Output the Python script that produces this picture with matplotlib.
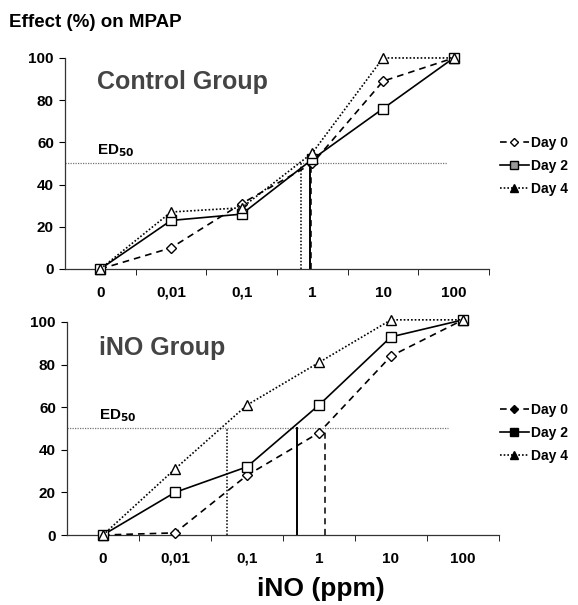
import matplotlib
matplotlib.use("Agg")
import matplotlib.pyplot as plt
from matplotlib.lines import Line2D

plt.rcParams["font.family"] = ["Liberation Sans", "DejaVu Sans"]
plt.rcParams["font.weight"] = "bold"

# ── data ──────────────────────────────────────────────────────────────
doses = ["0", "0,01", "0,1", "1", "10", "100"]
days = ["Day 0", "Day 2", "Day 4"]

ctrl_day0 = [0, 10, 31, 50, 89, 100]
ctrl_day2 = [0, 23, 26, 52, 76, 100]
ctrl_day4 = [0, 27, 29, 55, 100, 100]
ctrl_ed50 = [2.98, 2.96, 2.84]      # x position (category index) where curve crosses 50 %

ino_day0 = [0, 1, 28, 48, 84, 101]
ino_day2 = [0, 20, 32, 61, 93, 101]
ino_day4 = [0, 31, 61, 81, 101, 101]
ino_ed50 = [3.08, 2.70, 1.72]

ed50_level = 50
ed50_end = [4.91, 4.79]              # right end of horizontal ED50 line (category index)

styles = [
    dict(ls=(0, (4, 3)), marker="D", ms=5.5),
    dict(ls="-", marker="s", ms=6.5),
    dict(ls=(0, (1, 1.2)), marker="^", ms=6.5),
]

fig = plt.figure(figsize=(5.78, 6.05), dpi=100)

fig.text(0.016, 0.962, "Effect (%) on MPAP", fontsize=13.5, fontweight="bold",
         ha="left", va="center")


def panel(rect, series, ed50, hend, title, title_y, leg_y, leg_faces):
    ax = fig.add_axes(rect)
    x = list(range(len(doses)))
    for vals, st in zip(series, styles):
        ax.plot(x, vals, color="black", lw=1.2, ls=st["ls"], marker=st["marker"],
                ms=st["ms"], mfc="white", mec="black", mew=1.0, clip_on=False,
                zorder=3)
    # ED50 guide lines
    ax.plot([-0.5, hend], [ed50_level, ed50_level], color="#777", lw=0.9,
            ls=(0, (1, 1)), zorder=2)
    for xv, st in zip(ed50, styles):
        lw = 1.4 if st["ls"] == "-" else 1.1
        ax.plot([xv, xv], [0, ed50_level], color="black", lw=lw, ls=st["ls"],
                zorder=2)
    ax.text(-0.05, ed50_level + 2, "ED$_{\\mathbf{50}}$", fontsize=11,
            fontweight="bold", ha="left", va="bottom")
    ax.text(-0.05, title_y, title, fontsize=18, fontweight="bold", color="#444",
            ha="left", va="center")

    ax.set_xlim(-0.5, len(doses) - 0.5)
    ax.set_ylim(0, 100)
    ax.set_xticks(x)
    ax.set_xticklabels(doses)
    ax.set_xticks([i + 0.5 for i in x], minor=True)
    ax.tick_params(axis="x", which="major", length=0, pad=12, labelsize=11)
    ax.tick_params(axis="x", which="minor", length=4, direction="out")
    ax.set_yticks(range(0, 101, 20))
    ax.tick_params(axis="y", length=4, direction="out", pad=4, labelsize=11)
    for lab in ax.get_xticklabels() + ax.get_yticklabels():
        lab.set_fontweight("bold")
    ax.spines[["top", "right"]].set_visible(False)
    for sp in ("left", "bottom"):
        ax.spines[sp].set_color("#333")
        ax.spines[sp].set_linewidth(0.9)

    handles = [Line2D([], [], color="black", lw=1.2, ls=st["ls"],
                      marker=st["marker"], ms=st["ms"] - 1, mfc=fc, mec="black")
               for st, fc in zip(styles, leg_faces)]
    fig.legend(handles, days, loc="upper left", bbox_to_anchor=(0.855, leg_y),
               frameon=False, handlelength=2.1, handletextpad=0.15,
               labelspacing=0.65, borderaxespad=0, prop=dict(weight="bold", size=10))
    return ax


panel([0.1125, 0.5554, 0.7336, 0.3488],
      [ctrl_day0, ctrl_day2, ctrl_day4], ctrl_ed50, ed50_end[0],
      "Control Group", 88.5, 0.785, ["white", "#999", "black"])
panel([0.1159, 0.1157, 0.7474, 0.3521],
      [ino_day0, ino_day2, ino_day4], ino_ed50, ed50_end[1],
      "iNO Group", 88, 0.343, ["black", "black", "black"])

fig.text(0.555, 0.026, "iNO (ppm)", fontsize=19, fontweight="bold",
         ha="center", va="center")

fig.savefig("out.png", dpi=100)
